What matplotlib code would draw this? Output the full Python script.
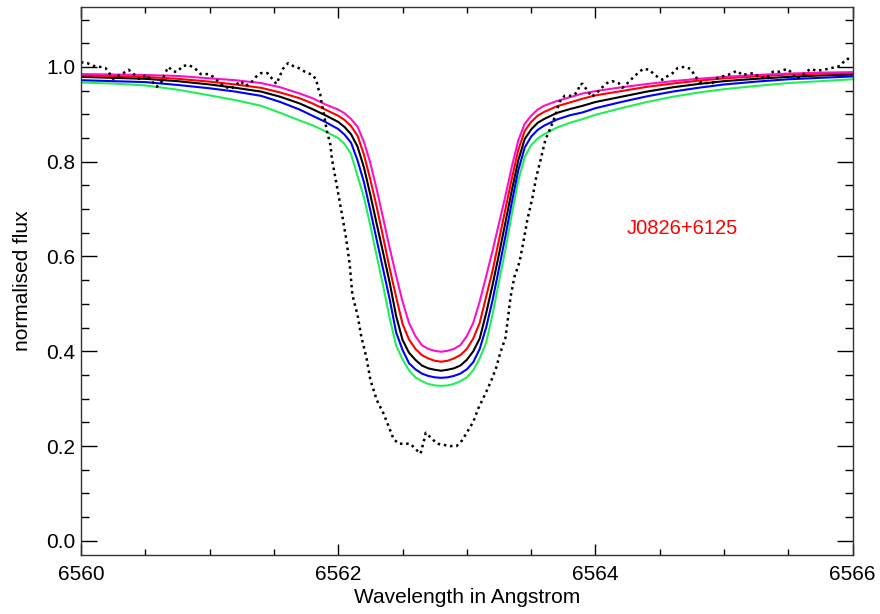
import numpy as np
import matplotlib
matplotlib.use("Agg")
import matplotlib.pyplot as plt
from matplotlib.ticker import MultipleLocator, FormatStrFormatter

plt.rcParams["font.family"] = ["Liberation Sans", "DejaVu Sans"]

# model grid (Angstrom) shared by the five synthetic profiles
wave_model = [6560.0, 6560.25, 6560.5, 6560.75, 6561.0, 6561.2, 6561.4, 6561.55, 6561.7,
              6561.8, 6561.9,
              6562.0, 6562.05, 6562.1, 6562.15, 6562.2, 6562.25, 6562.3, 6562.35, 6562.4,
              6562.45, 6562.5, 6562.55, 6562.6, 6562.65, 6562.7, 6562.75, 6562.8, 6562.85,
              6562.9, 6562.95,
              6563.0, 6563.05, 6563.1, 6563.15, 6563.2, 6563.25, 6563.3, 6563.35, 6563.4,
              6563.45, 6563.5, 6563.55, 6563.6, 6563.7, 6563.8, 6563.9, 6564.0, 6564.2,
              6564.4, 6564.6, 6564.8, 6565.0, 6565.25, 6565.5, 6565.75, 6566.0]

flux_magenta = [0.985, 0.984, 0.983, 0.981, 0.976, 0.972, 0.966, 0.957, 0.944, 0.934, 0.921,
                0.910, 0.902, 0.890, 0.874, 0.842, 0.797, 0.741, 0.680, 0.618, 0.560,
                0.505, 0.460, 0.432, 0.413, 0.405, 0.401, 0.399, 0.401, 0.405, 0.413,
                0.432, 0.460, 0.505, 0.558, 0.612, 0.670, 0.728, 0.790, 0.845, 0.880,
                0.897, 0.910, 0.918, 0.928, 0.936, 0.944, 0.949, 0.957, 0.964, 0.970,
                0.975, 0.979, 0.983, 0.986, 0.988, 0.989]
flux_red = [0.982, 0.981, 0.979, 0.975, 0.969, 0.963, 0.956, 0.946, 0.934, 0.923, 0.910,
            0.897, 0.888, 0.875, 0.855, 0.815, 0.762, 0.704, 0.640, 0.575, 0.515,
            0.458, 0.425, 0.405, 0.392, 0.385, 0.380, 0.378, 0.380, 0.385, 0.392,
            0.405, 0.427, 0.460, 0.515, 0.570, 0.635, 0.700, 0.765, 0.825, 0.865,
            0.884, 0.897, 0.905, 0.917, 0.925, 0.933, 0.940, 0.949, 0.958, 0.965,
            0.971, 0.976, 0.980, 0.984, 0.986, 0.987]
flux_black = [0.979, 0.977, 0.975, 0.970, 0.963, 0.956, 0.948, 0.937, 0.923, 0.911, 0.898,
              0.884, 0.873, 0.858, 0.832, 0.788, 0.730, 0.668, 0.607, 0.545, 0.475,
              0.424, 0.397, 0.382, 0.370, 0.364, 0.361, 0.359, 0.361, 0.364, 0.370,
              0.382, 0.400, 0.427, 0.480, 0.540, 0.605, 0.672, 0.740, 0.803, 0.848,
              0.868, 0.882, 0.890, 0.903, 0.911, 0.918, 0.926, 0.937, 0.948, 0.957,
              0.964, 0.970, 0.975, 0.979, 0.982, 0.984]
flux_blue = [0.972, 0.970, 0.968, 0.962, 0.955, 0.948, 0.939, 0.926, 0.910, 0.897, 0.884,
             0.869, 0.857, 0.840, 0.803, 0.757, 0.697, 0.634, 0.572, 0.510, 0.440,
             0.403, 0.375, 0.362, 0.353, 0.348, 0.345, 0.344, 0.345, 0.348, 0.353,
             0.362, 0.377, 0.405, 0.450, 0.508, 0.575, 0.643, 0.715, 0.782, 0.830,
             0.853, 0.867, 0.876, 0.889, 0.898, 0.904, 0.913, 0.926, 0.938, 0.948,
             0.956, 0.963, 0.969, 0.974, 0.977, 0.980]
flux_green = [0.967, 0.965, 0.961, 0.952, 0.940, 0.930, 0.918, 0.903, 0.887, 0.877, 0.864,
              0.850, 0.837, 0.816, 0.770, 0.725, 0.665, 0.600, 0.537, 0.470, 0.412,
              0.383, 0.360, 0.345, 0.337, 0.331, 0.328, 0.327, 0.328, 0.331, 0.337,
              0.345, 0.360, 0.385, 0.418, 0.478, 0.547, 0.615, 0.690, 0.760, 0.810,
              0.835, 0.849, 0.858, 0.872, 0.882, 0.890, 0.899, 0.913, 0.926, 0.937,
              0.946, 0.953, 0.960, 0.966, 0.970, 0.974]

# observed spectrum (dotted)
wave_obs = [6560.00, 6560.05, 6560.10, 6560.15, 6560.19, 6560.22, 6560.25, 6560.33, 6560.37,
            6560.41, 6560.45, 6560.51, 6560.55, 6560.59, 6560.63, 6560.65, 6560.68, 6560.72,
            6560.75, 6560.79, 6560.84, 6560.89, 6560.93, 6560.99, 6561.03, 6561.08, 6561.12,
            6561.17, 6561.24, 6561.28, 6561.32, 6561.36, 6561.40, 6561.45, 6561.48, 6561.52,
            6561.55, 6561.57, 6561.61, 6561.65, 6561.69, 6561.74, 6561.80, 6561.83, 6561.84,
            6561.86, 6561.87, 6561.89, 6561.91, 6561.94, 6561.95, 6561.97, 6562.00, 6562.03,
            6562.06, 6562.09, 6562.11, 6562.15, 6562.18, 6562.22, 6562.25, 6562.30, 6562.35,
            6562.39, 6562.43, 6562.47, 6562.52, 6562.56, 6562.60, 6562.64, 6562.67, 6562.68,
            6562.73, 6562.77, 6562.81, 6562.87, 6562.92, 6562.96, 6562.99, 6563.05, 6563.09,
            6563.14, 6563.19, 6563.23, 6563.26, 6563.30, 6563.32, 6563.34, 6563.37, 6563.41,
            6563.44, 6563.47, 6563.51, 6563.54, 6563.57, 6563.61, 6563.65, 6563.69, 6563.72,
            6563.76, 6563.82, 6563.86, 6563.88, 6563.90, 6563.94, 6563.97, 6564.01, 6564.04,
            6564.09, 6564.13, 6564.18, 6564.21, 6564.25, 6564.29, 6564.33, 6564.37, 6564.42,
            6564.46, 6564.52, 6564.55, 6564.60, 6564.64, 6564.69, 6564.74, 6564.77, 6564.81,
            6564.87, 6564.91, 6564.95, 6565.00, 6565.05, 6565.10, 6565.14, 6565.18, 6565.23,
            6565.28, 6565.33, 6565.38, 6565.43, 6565.49, 6565.53, 6565.56, 6565.63, 6565.67,
            6565.72, 6565.77, 6565.81, 6565.90, 6565.95, 6566.00]
flux_obs = [1.010, 1.008, 1.002, 1.000, 0.998, 0.987, 0.975, 0.987, 0.994,
            0.985, 0.975, 0.983, 0.970, 0.958, 0.970, 0.985, 1.000, 0.990,
            0.990, 1.002, 1.004, 0.996, 0.985, 0.985, 0.979, 0.966, 0.958,
            0.954, 0.970, 0.960, 0.966, 0.979, 0.987, 0.987, 0.977, 0.964,
            0.983, 0.996, 1.008, 1.002, 0.998, 0.990, 0.983, 0.973, 0.958,
            0.943, 0.926, 0.899, 0.867, 0.835, 0.808, 0.778, 0.734, 0.688,
            0.641, 0.582, 0.519, 0.477, 0.430, 0.386, 0.340, 0.297, 0.270,
            0.243, 0.215, 0.205, 0.205, 0.205, 0.194, 0.184, 0.215, 0.228,
            0.215, 0.205, 0.203, 0.200, 0.200, 0.211, 0.224, 0.251, 0.280,
            0.308, 0.338, 0.367, 0.397, 0.428, 0.470, 0.515, 0.557, 0.589,
            0.631, 0.677, 0.724, 0.768, 0.800, 0.846, 0.871, 0.899, 0.926,
            0.939, 0.939, 0.947, 0.964, 0.964, 0.949, 0.937, 0.945, 0.954,
            0.966, 0.970, 0.966, 0.956, 0.966, 0.977, 0.987, 0.996, 0.994,
            0.983, 0.973, 0.979, 0.987, 0.998, 1.000, 0.996, 0.983, 0.968,
            0.966, 0.966, 0.977, 0.981, 0.985, 0.992, 0.983, 0.985, 0.987,
            0.977, 0.977, 0.990, 0.990, 0.996, 0.987, 0.975, 0.987, 0.996,
            0.992, 0.994, 0.996, 1.002, 1.017, 1.017]

star_name = "J0826+6125"

fig = plt.figure(figsize=(8.8, 6.14), dpi=100)
ax = fig.add_axes([0.092, 0.096, 0.877, 0.893])

ax.plot(wave_model, flux_green, color="#22ee55", lw=1.5)
ax.plot(wave_model, flux_blue, color="#0000ff", lw=1.5)
ax.plot(wave_model, flux_black, color="black", lw=1.5)
ax.plot(wave_model, flux_red, color="#ff0000", lw=1.5)
ax.plot(wave_model, flux_magenta, color="#ff10c8", lw=1.5)
ax.plot(wave_obs, flux_obs, color="black", lw=1.8, linestyle=(0, (1, 1.5)))

ax.text(6564.243, 0.66, star_name, color="red", fontsize=14.5, ha="left", va="center")

ax.set_xlim(6560, 6566)
ax.set_ylim(-0.03, 1.127)
ax.xaxis.set_major_locator(MultipleLocator(2))
ax.xaxis.set_minor_locator(MultipleLocator(0.5))
ax.yaxis.set_major_locator(MultipleLocator(0.2))
ax.yaxis.set_minor_locator(MultipleLocator(0.05))
ax.yaxis.set_major_formatter(FormatStrFormatter("%.1f"))
ax.xaxis.set_major_formatter(FormatStrFormatter("%d"))

ax.tick_params(axis="both", which="both", direction="in", top=True, right=True,
               width=1.0, labelsize=15)
ax.tick_params(axis="x", which="major", length=8, pad=7)
ax.tick_params(axis="x", which="minor", length=4)
ax.tick_params(axis="y", which="major", length=11.5, pad=4)
ax.tick_params(axis="y", which="minor", length=5.8)
for sp in ax.spines.values():
    sp.set_linewidth(1.0)
    sp.set_color("#333333")

ax.set_xlabel("Wavelength in Angstrom", fontsize=15, labelpad=3)
ax.set_ylabel("normalised flux", fontsize=15, labelpad=10)

fig.savefig("out.png", dpi=100)
